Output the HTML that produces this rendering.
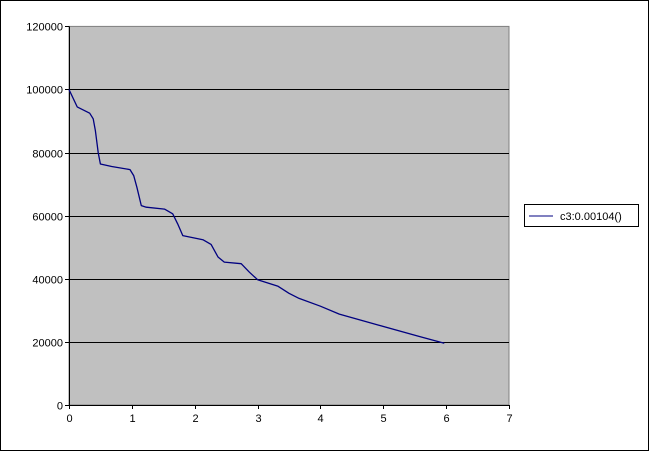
<!DOCTYPE html>
<html><head><meta charset="utf-8"><style>
html,body{margin:0;padding:0;background:#fff;}
svg{display:block;}
text{font-family:"Liberation Sans",Arial,sans-serif;font-size:11px;fill:#000;}
</style></head><body>
<svg id="chart" width="649" height="451">
<rect x="0.5" y="0.5" width="648" height="450" fill="#fff" stroke="#000"/>
<rect x="69" y="26.4" width="440" height="378.6" fill="#c0c0c0" stroke="#808080"/>
<g id="grid"></g><g id="axes"></g><g id="series"></g>
<g>
<rect x="524.5" y="204.5" width="114" height="22" fill="#fff" stroke="#000"/>
<line x1="529" y1="216" x2="553" y2="216" stroke="#000080" stroke-width="1"/>
<text x="560" y="220">c3:0.00104()</text>
</g>
</svg>
<script>
const xTicks=[0,1,2,3,4,5,6,7];
const yTicks=[0,20000,40000,60000,80000,100000,120000];
const xVals=[0,0.13,0.33,0.385,0.42,0.465,0.50,0.68,0.97,1.03,1.08,1.15,1.23,1.52,1.65,1.73,1.81,2.13,2.26,2.37,2.47,2.74,2.87,3.0,3.32,3.5,3.66,4.0,4.3,4.93,5.56,5.97];
const yVals=[100000,94500,92500,90700,86900,80000,76400,75600,74600,72700,69000,63200,62700,62100,60600,57400,53700,52400,50900,46900,45300,44800,42100,39700,37700,35400,33800,31300,28800,25300,21800,19600];
const X0=69,X1=509,Y0=405,Y1=26.4;
const xs=v=>X0+v/7*(X1-X0);
const ys=v=>Y0-v/120000*(Y0-Y1);
const NS="http://www.w3.org/2000/svg";
function mk(tag,attrs,parent){const e=document.createElementNS(NS,tag);for(const k in attrs)e.setAttribute(k,attrs[k]);parent.appendChild(e);return e;}
const grid=document.getElementById('grid'),axes=document.getElementById('axes'),series=document.getElementById('series');
yTicks.forEach(t=>{
  const y=Math.round(ys(t))+0.5;
  if(t>0&&t<120000){const g=mk('line',{x1:X0,x2:X1,y1:y,y2:y,stroke:'#000'},grid);
    
    }
  const tk=mk('line',{x1:X0-4,x2:X0,y1:y,y2:y,stroke:'#000'},axes);
  
  
  const tx=mk('text',{x:X0-6,y:y+4,'text-anchor':'end'},axes);tx.textContent=t;
  
  
});
xTicks.forEach(t=>{
  const x=Math.round(xs(t))+0.5;
  const tk=mk('line',{x1:x,x2:x,y1:Y0,y2:Y0+4,stroke:'#000'},axes);
  
  
  const tx=mk('text',{x:x,y:Y0+17,'text-anchor':'middle'},axes);tx.textContent=t;
  
  
});
const ya=mk('line',{x1:X0+0.5,x2:X0+0.5,y1:Y1,y2:Y0,stroke:'#000'},axes);


const xa=mk('line',{x1:X0,x2:X1,y1:Y0+0.5,y2:Y0+0.5,stroke:'#000'},axes);


const pts=xVals.map((v,i)=>xs(v).toFixed(1)+','+ys(yVals[i]).toFixed(1)).join(' ');
const pl=mk('polyline',{points:pts,fill:'none',stroke:'#000080','stroke-width':1.3,'stroke-linejoin':'round'},series);


</script>
</body></html>
